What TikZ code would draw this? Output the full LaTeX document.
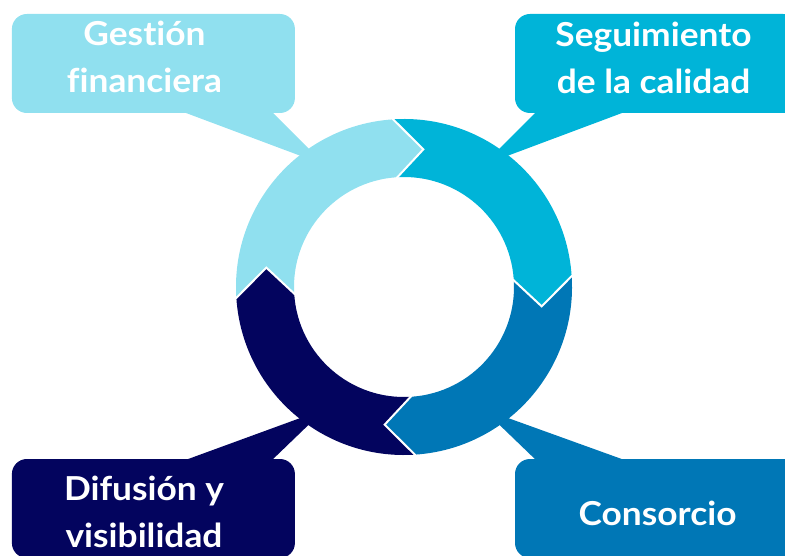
\documentclass[tikz,border=0pt]{standalone}
\usepackage{fontspec}
\newfontfamily\labelfont{Lato}[FakeStretch=1.07, Ligatures={NoCommon}]
\definecolor{cNavy}{HTML}{03045E}
\definecolor{cBlue}{HTML}{0077B6}
\definecolor{cCyan}{HTML}{00B4D8}
\definecolor{cLight}{HTML}{90E0EF}
\begin{document}
\begin{tikzpicture}[x=1pt,y=1pt,
  callout/.style={rectangle, rounded corners=15pt, inner sep=0pt,
    minimum width=283pt, minimum height=99pt},
  lbl/.style={text=white, font=\labelfont\bfseries\fontsize{33}{47}\selectfont,
    align=center, inner sep=0pt, anchor=base},
  sep/.style={white, line width=2pt, line join=miter},
]
\useasboundingbox (0,0) rectangle (785,-556);
\clip (0,0) rectangle (785,-556);
\coordinate (C) at (404,-287);

% pointers
\fill[cLight] (178,-110) -- (270,-110) -- (325,-165) -- cycle;
\fill[cCyan]  (630,-110) -- (538,-110) -- (483,-165) -- cycle;
\fill[cNavy]  (180,-462) -- (270,-462) -- (325,-409) -- cycle;
\fill[cBlue]  (630,-462) -- (538,-462) -- (483,-409) -- cycle;

% callout boxes
\node[callout, fill=cLight] (bL) at (153.4,-63.5) {};
\node[callout, fill=cCyan]  (bC) at (656.5,-63.5) {};
\node[callout, fill=cNavy]  (bN) at (153.4,-508.5) {};
\node[callout, fill=cBlue]  (bB) at (656.5,-508.5) {};

% ring segments: colour, tail angle, head angle
\foreach \col/\ta/\ha in {cLight/184/94, cCyan/94/4, cBlue/4/-86, cNavy/-86/-176}{
  \fill[\col] ([shift={(C)}]\ta:168) arc[start angle=\ta, end angle=\ha, radius=168]
    -- ([shift={(C)}]\ha-12:139) -- ([shift={(C)}]\ha:110)
    arc[start angle=\ha, end angle=\ta, radius=110]
    -- ([shift={(C)}]\ta-12:139) -- cycle;
}
% white separators between segments
\foreach \b in {94,4,-86,-176}{
  \draw[sep] ([shift={(C)}]\b:169) -- ([shift={(C)}]\b-12:139) -- ([shift={(C)}]\b:109);
}

% labels (base = baseline of the last line)
\node[lbl] (tL) at (144.5,-92.7) {Gestión\\financiera};
\node[lbl] (tC) at (653.5,-94) {Seguimiento\\de la calidad};
\node[lbl] (tN) at (144,-547.3) {Difusión y\\visibilidad};
\node[lbl] (tB) at (657.5,-525) {Consorcio};
\end{tikzpicture}
\end{document}
